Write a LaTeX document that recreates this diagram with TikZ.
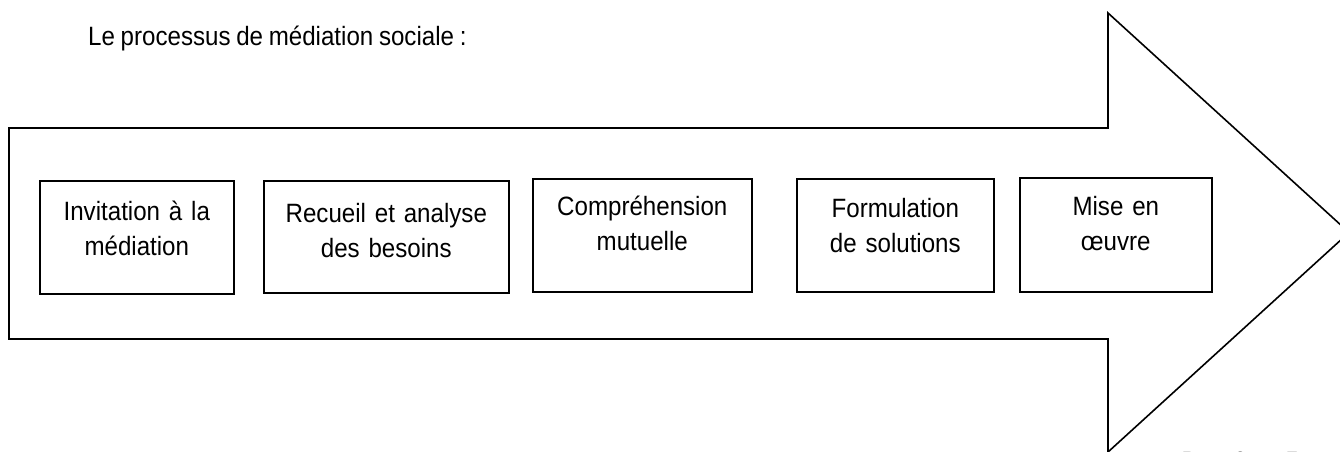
\documentclass[tikz,border=0pt]{standalone}
\usepackage{fontspec}
\setmainfont{Liberation Sans}[FakeStretch=0.91, WordSpace=0.85]
\usetikzlibrary{positioning}

\begin{document}
\begin{tikzpicture}[x=1pt, y=-1pt, every node/.style={font=\fontsize{26.5}{34.5}\selectfont}]
\tikzset{
  stepbox/.style={
    draw,
    line width=1.6pt,
    align=center,
    inner sep=0pt,
    anchor=north west,
  }
}
\useasboundingbox (0,0) rectangle (1340,452);
\clip (0,0) rectangle (1340,452);

\node[anchor=base west, inner sep=0pt] (title) at (88,46) {Le processus de médiation sociale :};

% big arrow
\draw[line width=1.6pt, line join=miter] (9,128) -- (1108,128) -- (1108,13) -- (1349,232.5)
  -- (1108,452) -- (1108,339) -- (9,339) -- cycle;

\node[stepbox, text width=194pt, text height=40pt, text depth=73pt] (invit) at (39,180) {Invitation à la\\médiation};
\node[stepbox, text width=245pt, text height=42pt, text depth=70pt] (recueil) at (263,180) {Recueil et analyse\\des besoins};
\node[stepbox, text width=219pt, text height=37pt, text depth=76pt] (compr) at (532,178) {Compréhension\\mutuelle};
\node[stepbox, text width=197pt, text height=39pt, text depth=74pt] (formul) at (796,178) {Formulation\\de solutions};
\node[stepbox, text width=192pt, text height=38pt, text depth=76pt] (mise) at (1019,177) {Mise en\\œuvre};

\node[anchor=base west, inner sep=0pt, font=\bfseries\fontsize{22}{26}\selectfont] (page) at (1182,467) {Page 3 sur 7};

\end{tikzpicture}
\end{document}
